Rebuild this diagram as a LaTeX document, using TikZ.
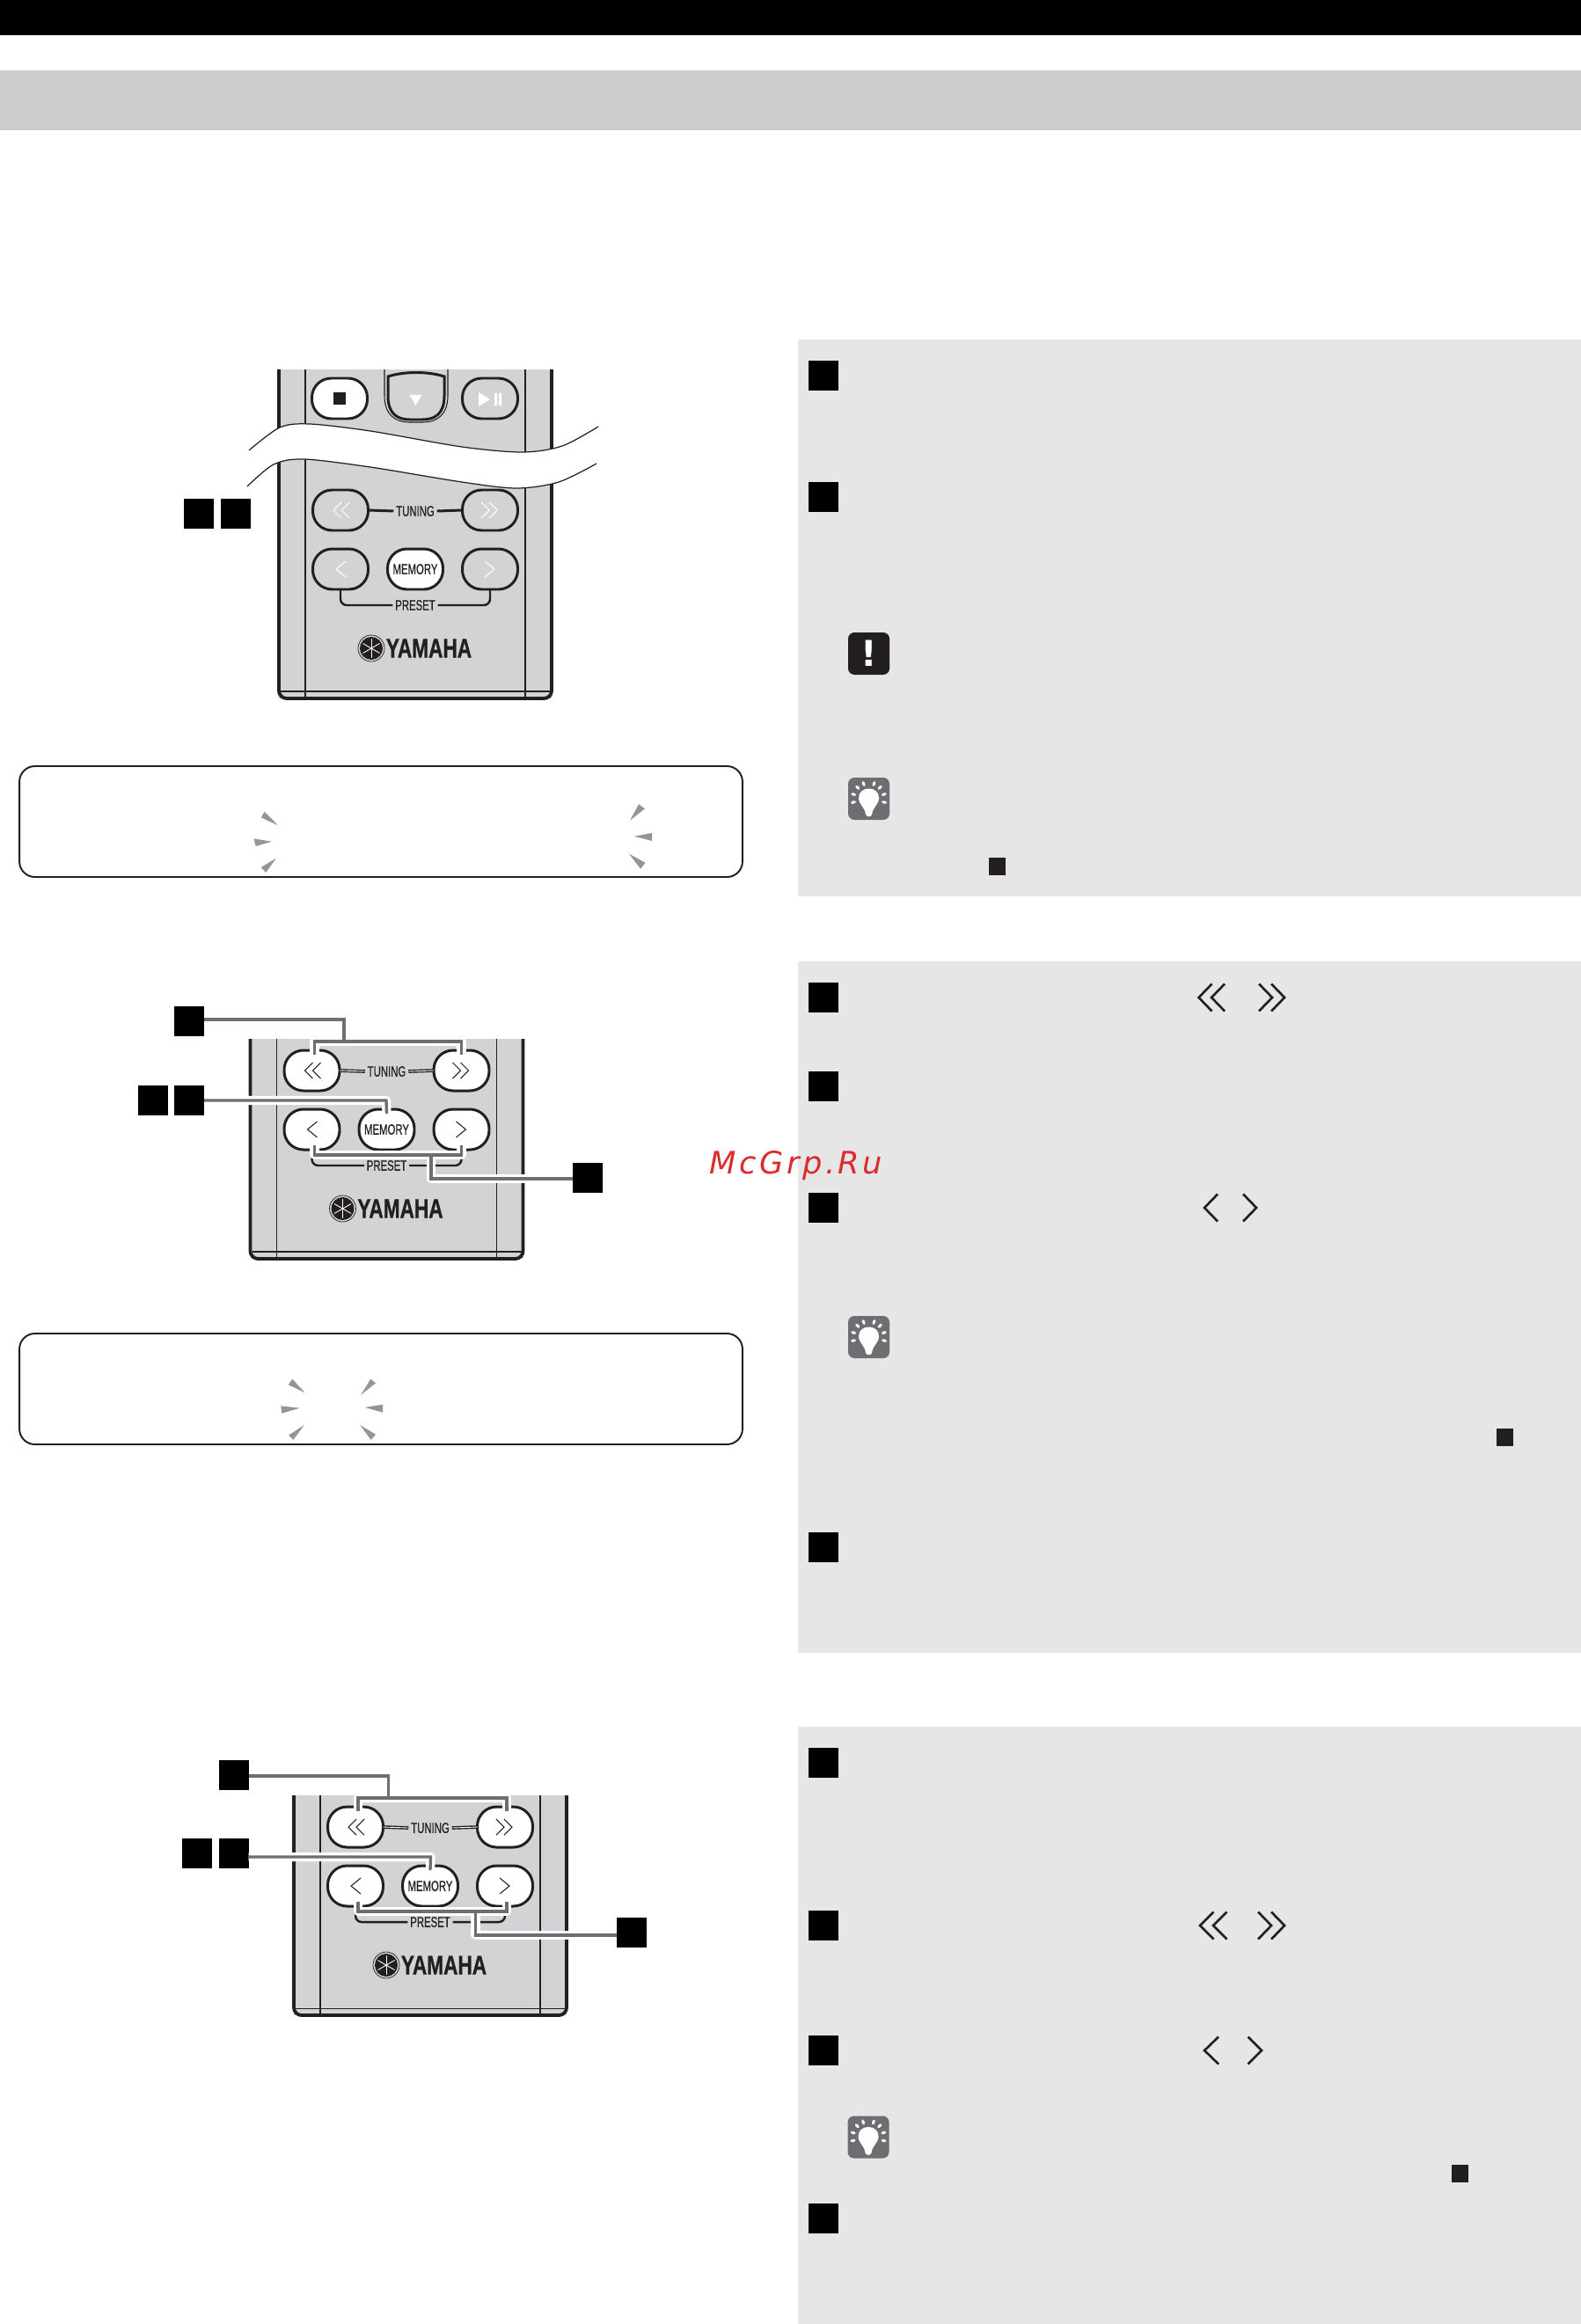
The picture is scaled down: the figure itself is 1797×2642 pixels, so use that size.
\documentclass[tikz,border=0pt]{standalone}
\usepackage{fontspec}
\usetikzlibrary{calc}

\newfontfamily\remotefont[FakeStretch=0.68,FakeBold=0.4]{Liberation Sans}
\newfontfamily\brandfont[FakeStretch=0.74,FakeBold=0.8]{Liberation Sans Bold}
\newfontfamily\markfont[LetterSpace=10]{DejaVu Sans}
\newfontfamily\iconfont{DejaVu Sans}

\definecolor{ink}{HTML}{231F20}
\definecolor{bodygray}{HTML}{D1D3D4}
\definecolor{bandgray}{HTML}{CCCCCC}
\definecolor{panelgray}{HTML}{E6E6E6}
\definecolor{leadgray}{HTML}{6D6E71}
\definecolor{raygray}{HTML}{939598}
\definecolor{markred}{HTML}{DC2A2E}

\tikzset{
    stepmark/.style={fill=black, inner sep=0, outer sep=0, minimum width=0.68cm, minimum height=0.68cm},
    smallmark/.style={fill=ink, inner sep=0, outer sep=0, minimum width=0.38cm, minimum height=0.4cm},
    btn/.style={draw=ink, line width=1.7pt, inner sep=0, outer sep=0, rounded corners=12.5pt, minimum width=1.26cm, minimum height=0.92cm},
    labeltext/.style={font=\remotefont\fontsize{9.5}{10}\selectfont, text=ink, inner sep=1.5pt},
    leader/.style={draw=leadgray, line width=1.9pt, preaction={draw=white, line width=5.8pt, line join=round}},
    dispbox/.style={draw=ink, line width=1.1pt, rounded corners=10pt, inner sep=0, outer sep=0, minimum width=16.44cm, minimum height=2.52cm},
    iconbox/.style={rounded corners=4pt, inner sep=0, outer sep=0, minimum width=0.94cm, minimum height=0.96cm},
    chev/.style={draw=ink, line width=1.5pt},
    ray/.style={fill=raygray}
}

% One remote face, coordinates relative to the middle of the TUNING row
% name, x, y, top edge, button fill, glyph colour, TUNING line options
\newcommand{\remoteface}[7]{
    \begin{scope}[shift={(#2,#3)}]
        % Body
        \fill[bodygray] (-155,#4) -- (-155,214) -- (155,214) -- (155,#4) -- cycle;
        \draw[ink, line width=0.6pt] (-125,#4) -- (-125,214) (125,#4) -- (125,214) (-153,206) -- (153,206);
        \draw[ink, line width=2.2pt, rounded corners=5pt] (-155,#4) -- (-155,214) -- (155,214) -- (155,#4);
        % Buttons
        \node (#1tl) [btn, fill=#5] at (-85,0) {};
        \node (#1tr) [btn, fill=#5] at (85,0) {};
        \node (#1pl) [btn, fill=#5] at (-85,67) {};
        \node (#1pr) [btn, fill=#5] at (85,67) {};
        \node (#1m) [btn, fill=white, labeltext] at (0,67) {MEMORY};
        % Glyphs on the buttons
        \draw[#6, line width=0.6pt] (-84,-9) -- (-93,0) -- (-84,9) (-75,-9) -- (-84,0) -- (-75,9);
        \draw[#6, line width=0.6pt] (84,-9) -- (93,0) -- (84,9) (75,-9) -- (84,0) -- (75,9);
        \draw[#6, line width=0.6pt] (-79,58) -- (-90,67) -- (-79,76);
        \draw[#6, line width=0.6pt] (79,58) -- (90,67) -- (79,76);
        % Labels and their lines
        \node (#1tun) [labeltext] at (0,1) {TUNING};
        \node (#1pre) [labeltext] at (0,108) {PRESET};
        \draw[#7] (#1tl.east) -- (#1tun.west);
        \draw[#7] (#1tun.east) -- (#1tr.west);
        \draw[ink, line width=1.4pt, rounded corners=4pt] (#1pl.south) |- (#1pre.west);
        \draw[ink, line width=1.4pt, rounded corners=4pt] (#1pr.south) |- (#1pre.east);
        % Brand
        \fill[bodygray, draw=ink, line width=0.4pt] (-50,157) circle (15);
        \fill[ink] (-50,157) circle (13);
        \foreach \a in {30,90,...,330} {
            \draw[white, line width=0.5pt] (-50,157) -- +(\a:11);
        }
        \node (#1yam) [font=\brandfont\fontsize{17.4}{18}\selectfont, text=ink, inner sep=0] at (15.5,157) {YAMAHA};
    \end{scope}
}

% Lamp icon of the hints
\newcommand{\tipicon}[3]{
    \node (#1) [iconbox, fill=leadgray] at (#2,#3) {};
    \begin{scope}[shift={(#2,#3)}]
        \fill[white] (-11.5,-1) .. controls (-11.5,-15) and (11.5,-15) .. (11.5,-1)
            .. controls (11.5,7) and (4.5,9) .. (3.5,18) .. controls (3,21) and (-3,21) .. (-3.5,18)
            .. controls (-4.5,9) and (-11.5,7) .. (-11.5,-1) -- cycle;
        \foreach \a in {13,-16,-45,-71,-109,-135,-164,-193} {
            \draw[white, line width=1.7pt, line cap=round] (\a:16.5) -- (\a:19.5);
        }
    \end{scope}
}

\begin{document}
\begin{tikzpicture}[x=0.02cm, y=-0.02cm]

    \useasboundingbox (0,0) rectangle (1797,2642);

    % Bars on top of the page
    \fill[black] (0,0) rectangle (1797,40);
    \fill[bandgray] (0,80) rectangle (1797,148);

    % Grey panels on the right
    \fill[panelgray] (907,386) rectangle (1797,1019);
    \fill[panelgray] (907,1093) rectangle (1797,1879);
    \fill[panelgray] (907,1963) rectangle (1797,2642);

    % Step marks in the panels
    \foreach \n/\y in {pa/427, pb/565, pc/1134, pd/1235, pe/1373, pf/1759, pg/2004, ph/2189, pi/2331, pj/2522} {
        \node (\n) [stepmark] at (936,\y) {};
    }

    % Small marks in the panels
    \node (sa) [smallmark] at (1133.5,985) {};
    \node (sb) [smallmark] at (1710,1634) {};
    \node (sc) [smallmark] at (1659.5,2471) {};

    % Warning and hint icons
    \node (warn) [iconbox, fill=ink, text=white, font=\iconfont\bfseries\fontsize{23}{24}\selectfont] at (987.5,743) {!};
    \tipicon{tipa}{987.5}{908}
    \tipicon{tipb}{987.5}{1520}
    \tipicon{tipc}{987}{2429.5}

    % Double and single arrows in the panels
    \draw[chev] (1377.5,1118.5) -- (1362.5,1134) -- (1377.5,1149.5) (1392,1118.5) -- (1377,1134) -- (1392,1149.5);
    \draw[chev] (1431,1118.5) -- (1446,1134) -- (1431,1149.5) (1445,1118.5) -- (1460,1134) -- (1445,1149.5);
    \draw[chev] (1384,1357.5) -- (1369,1373) -- (1384,1388.5);
    \draw[chev] (1413,1357.5) -- (1428,1373) -- (1413,1388.5);
    \draw[chev] (1379.5,2173.5) -- (1364,2189) -- (1379.5,2204.5) (1394.5,2173.5) -- (1379,2189) -- (1394.5,2204.5);
    \draw[chev] (1430,2173.5) -- (1445,2189) -- (1430,2204.5) (1445,2173.5) -- (1460,2189) -- (1445,2204.5);
    \draw[chev] (1385,2315.5) -- (1369,2331) -- (1385,2346.5);
    \draw[chev] (1418.5,2315.5) -- (1434,2331) -- (1418.5,2346.5);

    % First remote, with its upper part
    \remoteface{ra}{472}{580}{-160}{bodygray}{white}{ink, line width=1.7pt}
    \node (rastop) [btn, fill=white] at (386,453) {};
    \node (raplay) [btn, fill=bodygray] at (557,453) {};
    \node (rasq) [fill=ink, inner sep=0, minimum size=0.28cm] at (rastop) {};
    \fill[white] (544,446) -- (557,454) -- (544,462) -- cycle;
    \fill[white] (562,447) rectangle (565,461) (567,447) rectangle (570,461);
    \draw[ink, line width=0.6pt] (437,420) -- (437,450) .. controls (437,472) and (450,480) .. (465,480) -- (481,480) .. controls (496,480) and (509,472) .. (509,450) -- (509,420);
    \fill[bodygray, draw=ink, line width=1.7pt] (441,428) .. controls (460,422) and (486,422) .. (505,428) -- (505,450) .. controls (505,470) and (495,477) .. (480,477) -- (466,477) .. controls (451,477) and (441,470) .. (441,450) -- cycle;
    \fill[white] (465.5,449) -- (479.5,449) -- (472.5,461) -- cycle;

    % White gap across the first remote
    \fill[white] plot[smooth] coordinates {(283,512) (318,486) (352,482) (421,490) (525,508) (594,514) (639,507) (680,485)}
        -- plot[smooth] coordinates {(678,527) (635,548) (587,555) (525,548) (421,531) (345.5,522) (311,528) (281,553)} -- cycle;
    \draw[ink, line width=0.7pt] plot[smooth] coordinates {(283,512) (318,486) (352,482) (421,490) (525,508) (594,514) (639,507) (680,485)};
    \draw[ink, line width=0.7pt] plot[smooth] coordinates {(281,553) (311,528) (345.5,522) (421,531) (525,548) (587,555) (635,548) (678,527)};

    \node (raa) [stepmark] at (226,584) {};
    \node (rab) [stepmark] at (268,584) {};

    % Display boxes with their rays
    \node (dispa) [dispbox] at (433,934) {};
    \fill[ray] (300.6,922.7) -- (296.8,929.3) -- (316,938.3) -- cycle;
    \fill[ray] (288.5,953.3) -- (290.7,962) -- (308.8,956.7) -- cycle;
    \fill[ray] (313.8,975.7) -- (296.8,986) -- (302.2,992) -- cycle;
    \fill[ray] (726,914.3) -- (733,919.3) -- (716,932.7) -- cycle;
    \fill[ray] (720.8,950.7) -- (741,947) -- (741,956) -- cycle;
    \fill[ray] (715,970.7) -- (733.4,980.7) -- (728,987.7) -- cycle;

    \node (dispb) [dispbox] at (433,1579) {};
    \fill[ray] (332.3,1567.7) -- (327.7,1574.3) -- (346.7,1583.3) -- cycle;
    \fill[ray] (319.3,1598.3) -- (320.3,1606.7) -- (340.7,1600.7) -- cycle;
    \fill[ray] (345.7,1620) -- (328,1631.7) -- (333.3,1637) -- cycle;
    \fill[ray] (421.3,1567.7) -- (427,1572.3) -- (410,1586) -- cycle;
    \fill[ray] (435,1596.7) -- (435,1605.7) -- (414.7,1600) -- cycle;
    \fill[ray] (409.3,1620) -- (427,1630.7) -- (421.7,1637) -- cycle;

    % Second remote
    \remoteface{rb}{439.5}{1217}{-36}{white}{ink}{ink, line width=0.8pt, double=white, double distance=0.5pt}
    \node (rba) [stepmark] at (215,1161) {};
    \node (rbb) [stepmark] at (174,1251) {};
    \node (rbc) [stepmark] at (215,1251) {};
    \node (rbd) [stepmark] at (667.5,1339) {};
    \coordinate (rbup) at (391,1184);
    \coordinate (rbin) at (439,1251);
    \coordinate (rbdn) at (490,1313);
    \draw[leader] ($(rbtl.north)+(3,5)$) |- (rbup) -| ($(rbtr.north)+(0,5)$) (rbup) |- (rba.east |- 0,1159);
    \draw[leader] (rbc.east) -- (rbin) -- ($(rbm.north)+(0,5)$);
    \draw[leader] ($(rbpl.south)+(3,-5)$) |- (rbdn) -| ($(rbpr.south)+(0,-5)$) (rbdn) |- (rbd.west |- 0,1340);

    % Third remote
    \remoteface{rc}{489}{2077}{-36}{white}{ink}{ink, line width=0.8pt, double=white, double distance=0.5pt}
    \node (rca) [stepmark] at (265.5,2017.5) {};
    \node (rcb) [stepmark] at (224,2107) {};
    \node (rcc) [stepmark] at (265.5,2107) {};
    \node (rcd) [stepmark] at (718,2197) {};
    \coordinate (rcup) at (441.5,2044);
    \coordinate (rcin) at (489.5,2111);
    \coordinate (rcdn) at (540.5,2173);
    \draw[leader] ($(rctl.north)+(3,5)$) |- (rcup) -| ($(rctr.north)+(2,5)$) (rcup) |- (rca.east |- 0,2019);
    \draw[leader] (rcc.east |- rcin) -- (rcin) -- ($(rcm.north)+(0,5)$);
    \draw[leader] ($(rcpl.south)+(3,-5)$) |- (rcdn) -| ($(rcpr.south)+(2,-5)$) (rcdn) |- (rcd.west |- 0,2200);

    % Site mark over the page
    \node (sitemark) [font=\markfont\itshape\fontsize{20}{21}\selectfont, text=markred] at (905,1325) {McGrp.Ru};

\end{tikzpicture}
\end{document}
